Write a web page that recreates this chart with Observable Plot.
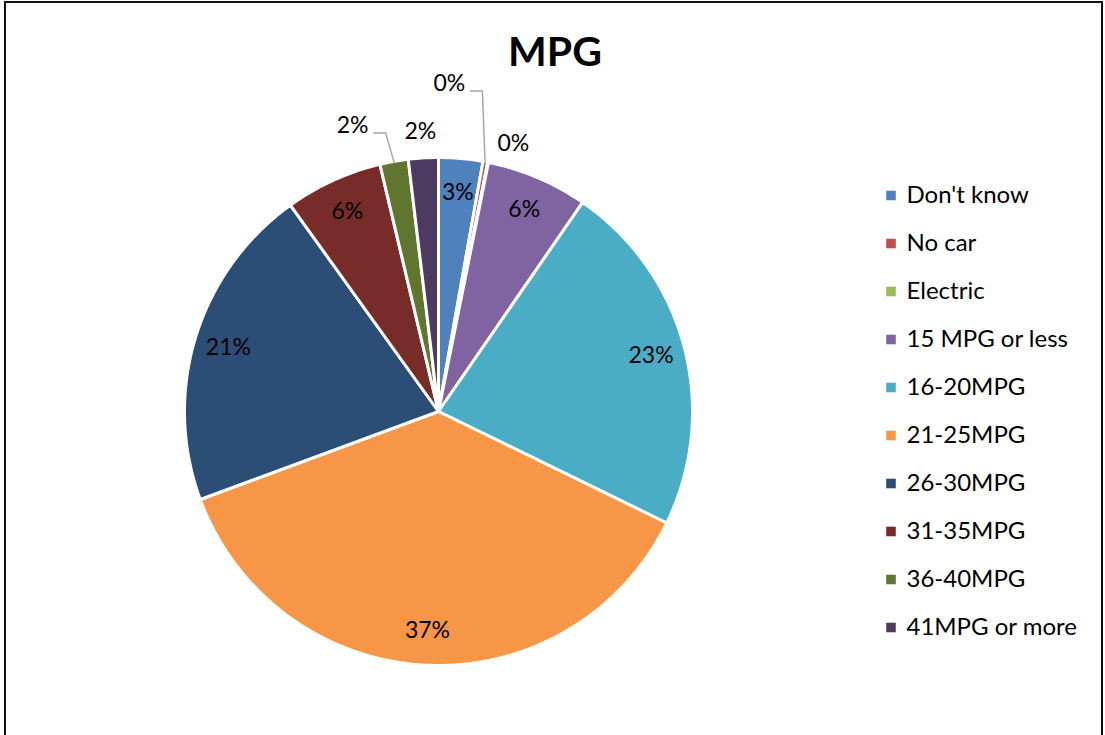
<!DOCTYPE html>
<html><head><meta charset="utf-8">
<script src="https://cdn.jsdelivr.net/npm/d3@7"></script>
<script src="https://cdn.jsdelivr.net/npm/@observablehq/plot@0.6"></script>
<style>
html,body{margin:0;padding:0;background:#fff;}
#wrap{position:relative;width:1105px;height:735px;overflow:hidden;font-family:Lato,sans-serif;}
#border{position:absolute;left:4px;top:1px;width:1099px;height:800px;border:2px solid #111;box-sizing:border-box;}
#title{position:absolute;left:455px;top:30px;width:200px;text-align:center;font:bold 41px/41px Lato,sans-serif;color:#000;}
#pie{position:absolute;left:0;top:0;}
#legend{position:absolute;left:870px;top:0;}
</style></head>
<body><div id="wrap"><div id="border"></div><div id="title"></div><div id="pie"></div><div id="legend"></div></div>
<script>
const chartTitle = "MPG";
const categories = ["Don't know", "No car", "Electric", "15 MPG or less", "16-20MPG", "21-25MPG", "26-30MPG", "31-35MPG", "36-40MPG", "41MPG or more"];
const shares = [2.8, 0.3, 0.05, 6.45, 22.6, 37.1, 20.7, 6.2, 1.8, 1.9];
const colors = ["#4F81BD", "#C0504D", "#9BBB59", "#8064A2", "#4BACC6", "#F79646", "#2C4D75", "#772C2A", "#5F7530", "#4D3B62"];

document.getElementById("title").textContent = chartTitle;

const rows = categories.map((c, i) => ({key: c, share: shares[i]}));
const arcs = d3.pie().sort(null).value(d => d.share)(rows);

// pie geometry (unit circle, computed from the data)
const slicePts = [];
for (const a of arcs) {
  const key = a.data.key;
  const n = Math.max(2, Math.ceil((a.endAngle - a.startAngle) / (Math.PI / 180)));
  slicePts.push({key, px: 0, py: 0});
  for (let i = 0; i <= n; i++) {
    const t = a.startAngle + (a.endAngle - a.startAngle) * i / n;
    slicePts.push({key, px: Math.sin(t), py: Math.cos(t)});
  }
}

// label placement (polar, radius in pie radii, angle in degrees) for labels drawn outside
const R = 254;
const outside = {
  "No car": {r: 1.292, a: 1.9, leader: true},
  "Electric": {r: 1.096, a: 15.6},
  "36-40MPG": {r: 1.176, a: -16.7, leader: true},
  "41MPG or more": {r: 1.105, a: -3.7}
};
const labels = [];
const leaders = [];
for (const a of arcs) {
  const key = a.data.key;
  const mid = (a.startAngle + a.endAngle) / 2;
  const pct = Math.round(a.data.share / d3.sum(shares) * 100) + "%";
  const o = outside[key];
  let lx, ly;
  if (o) {
    const t = o.a * Math.PI / 180;
    lx = o.r * Math.sin(t); ly = o.r * Math.cos(t);
    if (o.leader) {
      const sx = lx + 21 / R, sy = ly - 7.5 / R;
      leaders.push({key, px: sx, py: sy});
      leaders.push({key, px: sx + 12 / R, py: sy});
      leaders.push({key, px: 0.995 * Math.sin(mid), py: 0.995 * Math.cos(mid)});
    }
  } else {
    lx = 0.865 * Math.sin(mid); ly = 0.865 * Math.cos(mid);
  }
  labels.push({key, px: lx, py: ly, text: pct});
}

const colorScale = {domain: categories, range: colors};

const pie = Plot.plot({
  width: 1105, height: 735,
  x: {domain: [-1, 1], range: [438 - R, 438 + R], axis: null},
  y: {domain: [-1, 1], range: [411 + R, 411 - R], axis: null},
  color: colorScale,
  style: {fontFamily: "Lato, sans-serif", background: "transparent"},
  marks: [
    Plot.line(slicePts, {x: "px", y: "py", z: "key", fill: "key", stroke: "white", strokeWidth: 3, curve: "linear-closed", strokeLinejoin: "round"}),
    Plot.line(leaders, {x: "px", y: "py", z: "key", stroke: "#a6a6a6", strokeWidth: 1.5}),
    Plot.text(labels, {x: "px", y: "py", text: "text", fontSize: 23, fill: "#000"})
  ]
});
document.getElementById("pie").appendChild(pie);

const legend = Plot.plot({
  width: 235, height: 735, margin: 0,
  y: {type: "point", domain: categories, range: [193, 628], padding: 0, axis: null},
  color: colorScale,
  style: {fontFamily: "Lato, sans-serif", background: "transparent"},
  marks: [
    Plot.dot(categories, {y: d => d, frameAnchor: "left", dx: 20.5, symbol: "square", r: 5.4, fill: d => d}),
    Plot.text(categories, {y: d => d, text: d => d, frameAnchor: "left", dx: 36, textAnchor: "start", fontSize: 24, fill: "#000"})
  ]
});
document.getElementById("legend").appendChild(legend);
</script>
</body></html>
